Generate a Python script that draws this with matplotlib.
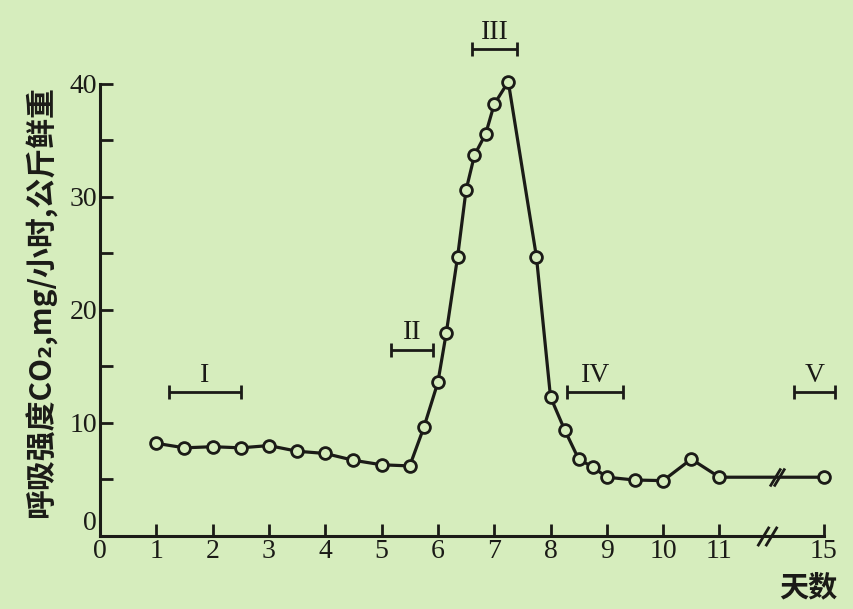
"""
Respiration intensity over storage days (climacteric curve), redrawn from a scanned figure.
"""

import matplotlib.pyplot as plt
import numpy as np

# Data
DAYS = [1, 1.5, 2, 2.5, 3, 3.5, 4, 4.5, 5, 5.5, 5.75, 6, 6.15, 6.35, 6.5, 6.65,
        6.85, 7.0, 7.25, 7.75, 8.0, 8.25, 8.5, 8.75, 9.0, 9.5, 10.0, 10.5, 11.0, 15]
RESP = [8.2, 7.8, 7.9, 7.8, 8.0, 7.5, 7.3, 6.7, 6.3, 6.2, 9.6, 13.6, 18.0, 24.7, 30.6, 33.7,
        35.6, 38.2, 40.2, 24.7, 12.3, 9.4, 6.8, 6.1, 5.2, 4.95, 4.9, 6.8, 5.2, 5.2]

X_TICKS = [0, 1, 2, 3, 4, 5, 6, 7, 8, 9, 10, 11, 15]
Y_TICKS = [0, 10, 20, 30, 40]
Y_MINOR = [5, 15, 25, 35]

# Stage bars: name, start day, end day, height
STAGE_NAMES = ['I', 'II', 'III', 'IV', 'V']
STAGE_START = [1.22, 5.17, 6.61, 8.3, 13.85]
STAGE_END = [2.5, 5.91, 7.4, 9.29, 15.45]
STAGE_Y = [12.7, 16.5, 43.1, 12.7, 12.7]

# Axis is broken after day 11; day 15 sits at 12.85 on the drawn axis
BREAK_AFTER = 11
BREAK_SCALE = 0.4625

BG = '#d6edbd'
INK = '#1b1b17'


def squeeze(d):
    d = np.asarray(d, dtype=float)
    return np.where(d > BREAK_AFTER, BREAK_AFTER + (d - BREAK_AFTER) * BREAK_SCALE, d)


def main():
    plt.rcParams['font.family'] = ['Liberation Serif', 'DejaVu Serif']
    cjk = ['Noto Sans CJK SC', 'DejaVu Sans']

    fig = plt.figure(figsize=(8.54, 6.09), dpi=100, facecolor=BG)
    ax = fig.add_axes([0.1171, 0.1199, 0.8724, 0.8473])
    ax.set_facecolor(BG)
    ax.set_xlim(0, 13.23)
    ax.set_ylim(0, 45.66)

    # curve
    ax.plot(squeeze(DAYS), RESP, color=INK, lw=2.3, marker='o', ms=8.5,
            mfc=BG, mec=INK, mew=2.0, zorder=3, clip_on=False)

    # stage bars with caps and roman labels
    for name, s, e, y in zip(STAGE_NAMES, STAGE_START, STAGE_END, STAGE_Y):
        xs, xe = squeeze([s, e])
        ax.errorbar((xs + xe) / 2, y, xerr=(xe - xs) / 2, fmt='none', ecolor=INK,
                     elinewidth=2.0, capsize=5, capthick=2.0, clip_on=False)
        ax.annotate(name, ((xs + xe) / 2, y), xytext=(0, 3), textcoords='offset points',
                    ha='center', va='bottom', fontsize=20, color=INK)

    # spines / ticks
    for side in ['top', 'right']:
        ax.spines[side].set_visible(False)
    ax.spines['left'].set_bounds(0, 40)
    ax.spines['bottom'].set_bounds(0, float(squeeze(15)))
    for side in ['left', 'bottom']:
        ax.spines[side].set_linewidth(2.2)
        ax.spines[side].set_color(INK)

    ax.set_xticks(squeeze(X_TICKS))
    ax.set_xticklabels([str(t) for t in X_TICKS], fontsize=20)
    ax.set_yticks(Y_TICKS)
    ax.set_yticklabels([str(t) for t in Y_TICKS], fontsize=20)
    ax.set_yticks(Y_MINOR, minor=True)
    ax.tick_params(axis='both', which='both', direction='in', width=2.0, color=INK,
                   labelcolor=INK)
    ax.tick_params(axis='both', which='major', length=9)
    ax.tick_params(axis='y', which='minor', length=9)
    ax.tick_params(axis='x', pad=2)
    ax.tick_params(axis='y', pad=2)
    # the y "0" sits a little above the corner so it clears the x "0"
    ax.get_yticklabels()[0].set_verticalalignment('bottom')

    # break marks on the curve and on the axis
    slash = [(-0.6, -1), (0.6, 1)]
    ax.plot([11.98, 12.05], [5.2, 5.2], ls='none', marker=slash, ms=13, mew=2.0,
            color=INK, zorder=4)
    ax.plot([11.78, 11.92], [0, 0], ls='none', marker=slash, ms=14, mew=2.0,
            color=INK, clip_on=False, zorder=4)

    ax.set_ylabel('呼吸强度CO₂,mg/小时,公斤鲜重', family=cjk, fontsize=21.5,
                  fontweight='bold', color=INK)
    ax.yaxis.set_label_coords(-0.058, 0.453)
    ax.text(float(squeeze(15)) - 0.27, -0.1, '天数', transform=ax.get_xaxis_transform(),
            family=cjk, fontsize=21, fontweight='bold', color=INK, ha='center', va='center')

    fig.savefig('out.png', dpi=100, facecolor=BG)


if __name__ == '__main__':
    main()
